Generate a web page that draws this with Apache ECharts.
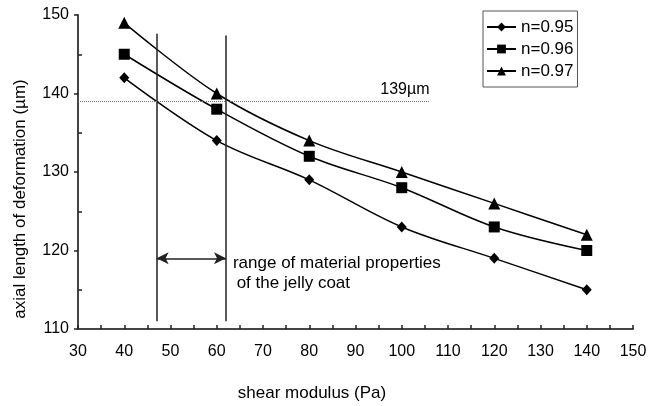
<!DOCTYPE html>
<html>
<head>
<meta charset="utf-8">
<script src="https://cdn.jsdelivr.net/npm/echarts@6/dist/echarts.min.js"></script>
<style>
  html, body { margin: 0; padding: 0; background: #fff; }
  #main { width: 658px; height: 406px; }
</style>
</head>
<body>
<div id="main"></div>
<script>
// shear modulus (Pa)
const shear = [40, 60, 80, 100, 120, 140];
// axial length of deformation (um) per n
const n095 = [142, 134, 129, 123, 119, 115];
const n096 = [145, 138, 132, 128, 123, 120];
const n097 = [149, 140, 134, 130, 126, 122];
const seriesNames = ['n=0.95', 'n=0.96', 'n=0.97'];
const yMinorTicks = [115, 125, 135, 145];
// annotations
const jellyRange = [47, 62];      // Pa, vertical lines
const jellyLineSpan = [111, 147.6];
const arrowLevel = 119;
const refLength = 139;
const refLineEnd = 106;
const rangeText = ['range of material properties', 'of the jelly coat'];
const rangeTextPos = [[63.5, 118.4], [64.3, 115.8]];

const font = 'Liberation Sans, Arial, Helvetica, sans-serif';
const pairs = arr => shear.map((x, i) => [x, arr[i]]);

const myChart = echarts.init(document.getElementById('main'));
const option = {
  animation: false,
  backgroundColor: '#fff',
  textStyle: { fontFamily: font, color: '#000' },
  grid: { left: 78, right: 25, top: 15, bottom: 77 },
  legend: {
    orient: 'vertical',
    left: 483,
    top: 11,
    data: seriesNames,
    itemWidth: 29,
    itemHeight: 11,
    itemGap: 2,
    padding: [6, 4, 6, 3],
    borderColor: '#555',
    borderWidth: 1,
    textStyle: { fontSize: 17, lineHeight: 20, color: '#000', fontFamily: font }
  },
  xAxis: {
    type: 'value',
    min: 30,
    max: 150,
    interval: 10,
    axisLine: { lineStyle: { color: '#444', width: 2 } },
    axisTick: { show: true, inside: true, length: 4, lineStyle: { color: '#222', width: 1.5 } },
    minorTick: { show: true, splitNumber: 2, length: 4, lineStyle: { color: '#222', width: 1.5 } },
    axisLabel: { fontSize: 16, color: '#000', margin: 15, fontFamily: font },
    splitLine: { show: false }
  },
  yAxis: [
    {
      type: 'value',
      min: 110,
      max: 150,
      interval: 10,
      axisLine: { show: true, lineStyle: { color: '#444', width: 2 } },
      axisTick: { show: true, inside: false, length: 4, lineStyle: { color: '#222', width: 1.5 } },
      axisLabel: { fontSize: 16, color: '#000', margin: 9, fontFamily: font },
      splitLine: { show: false }
    },
    {
      type: 'value',
      min: 110,
      max: 150,
      position: 'left',
      offset: 0,
      axisLine: { show: false },
      axisTick: { show: true, inside: true, length: 4, customValues: yMinorTicks, lineStyle: { color: '#222', width: 1.5 } },
      axisLabel: { show: false },
      splitLine: { show: false }
    }
  ],
  graphic: [
    {
      type: 'text',
      x: 20,
      y: 199,
      rotation: Math.PI / 2,
      style: {
        text: 'axial length of deformation (µm)',
        font: '17px ' + font,
        fill: '#000',
        align: 'center',
        verticalAlign: 'middle'
      }
    },
    {
      type: 'text',
      x: 312,
      y: 393,
      style: {
        text: 'shear modulus (Pa)',
        font: '17px ' + font,
        fill: '#000',
        align: 'center',
        verticalAlign: 'middle'
      }
    }
  ],
  series: [
    {
      name: seriesNames[0],
      type: 'line',
      smooth: 0.35,
      data: pairs(n095),
      symbol: 'diamond',
      symbolSize: [10, 11],
      itemStyle: { color: '#000' },
      lineStyle: { color: '#000', width: 1.5 },
      z: 3,
      markLine: {
        silent: true,
        symbol: ['none', 'none'],
        label: { show: false },
        data: [
          [
            { coord: [jellyRange[0], jellyLineSpan[0]] },
            { coord: [jellyRange[0], jellyLineSpan[1]] }
          ],
          [
            { coord: [jellyRange[1], jellyLineSpan[0]] },
            { coord: [jellyRange[1], jellyLineSpan[1] - 0.2] }
          ],
          [
            { coord: [jellyRange[0], arrowLevel], symbol: 'arrow', symbolSize: [9, 12] },
            { coord: [jellyRange[1], arrowLevel], symbol: 'arrow', symbolSize: [9, 12] }
          ],
          [
            { coord: [30, refLength], lineStyle: { type: 'dotted', color: '#777', width: 1 } },
            {
              coord: [refLineEnd, refLength],
              label: {
                show: true,
                position: 'insideEndTop',
                distance: [0, 4],
                formatter: refLength + 'µm',
                fontSize: 16,
                color: '#000',
                fontFamily: font
              }
            }
          ]
        ],
        lineStyle: { color: '#222', width: 1.5, type: 'solid' }
      },
      markPoint: {
        silent: true,
        symbol: 'circle',
        symbolSize: 0,
        label: {
          show: true,
          position: 'right',
          distance: 0,
          fontSize: 17,
          color: '#000',
          fontFamily: font
        },
        data: rangeText.map((t, i) => ({
          coord: rangeTextPos[i],
          label: { formatter: t }
        }))
      }
    },
    {
      name: seriesNames[1],
      type: 'line',
      smooth: 0.35,
      data: pairs(n096),
      symbol: 'rect',
      symbolSize: 11,
      itemStyle: { color: '#000' },
      lineStyle: { color: '#000', width: 1.5 },
      z: 3
    },
    {
      name: seriesNames[2],
      type: 'line',
      smooth: 0.35,
      data: pairs(n097),
      symbol: 'triangle',
      symbolSize: 12,
      itemStyle: { color: '#000' },
      lineStyle: { color: '#000', width: 1.5 },
      z: 3
    }
  ]
};
option && myChart.setOption(option);
</script>
</body>
</html>
